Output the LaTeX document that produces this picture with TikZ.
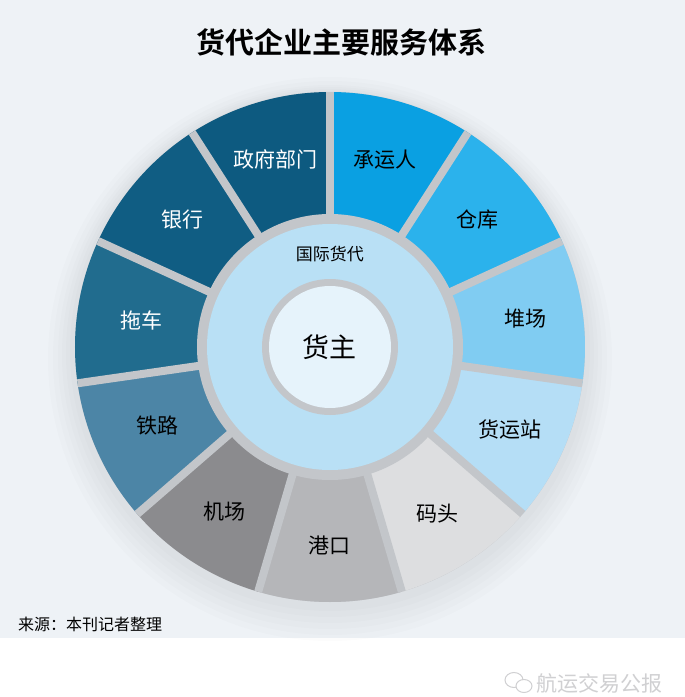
\documentclass[tikz,border=0pt]{standalone}
\usepackage{fontspec}
\setmainfont{Noto Sans CJK SC}[BoldFont=* Bold]
\usepackage{tikz}
\definecolor{bgc}{HTML}{EEF2F6}
\definecolor{gapc}{HTML}{C3C6CA}
\definecolor{govc}{HTML}{0D5A80}
\definecolor{bankc}{HTML}{105D83}
\definecolor{truckc}{HTML}{216C8E}
\definecolor{railc}{HTML}{4C85A6}
\definecolor{airc}{HTML}{8B8B8E}
\definecolor{portc}{HTML}{B5B6B9}
\definecolor{wharfc}{HTML}{DDDEE0}
\definecolor{stationc}{HTML}{B5DEF6}
\definecolor{yardc}{HTML}{80CCF2}
\definecolor{housec}{HTML}{2BB2EC}
\definecolor{carrierc}{HTML}{0AA0E2}
\definecolor{ffc}{HTML}{B9E0F5}
\definecolor{ownerc}{HTML}{E6F3FB}
\definecolor{wmc}{HTML}{D0D0D2}

\begin{document}
\begin{tikzpicture}[x=1pt, y=1pt, lab/.style={font=\fontsize{21}{21}\selectfont, text=black},
  wlab/.style={lab, text=white}, gap/.style={draw=gapc, line width=8pt},
  shade/.style={fill=black, opacity=0.012}]
\useasboundingbox (-330,-350) rectangle (355,347);
\fill[white] (-330,-350) rectangle (355,347); \fill[bgc] (-330,-291) rectangle (355,347);
\fill[shade] (0,-12) circle (282); \fill[shade] (0,-11) circle (277); \fill[shade] (0,-10) circle (272);
\fill[shade] (0,-8) circle (268); \fill[shade] (0,-6) circle (264); \fill[shade] (0,-4) circle (260);
\fill[gapc] (0,0) circle (255);
\fill[carrierc] (0,0) -- (57.27:255) arc[start angle=57.27, end angle=90, radius=255] -- cycle;
\fill[housec] (0,0) -- (24.55:255) arc[start angle=24.55, end angle=57.27, radius=255] -- cycle;
\fill[yardc] (0,0) -- (-8.18:255) arc[start angle=-8.18, end angle=24.55, radius=255] -- cycle;
\fill[stationc] (0,0) -- (-40.91:255) arc[start angle=-40.91, end angle=-8.18, radius=255] -- cycle;
\fill[wharfc] (0,0) -- (-73.64:255) arc[start angle=-73.64, end angle=-40.91, radius=255] -- cycle;
\fill[portc] (0,0) -- (-106.36:255) arc[start angle=-106.36, end angle=-73.64, radius=255] -- cycle;
\fill[airc] (0,0) -- (-139.09:255) arc[start angle=-139.09, end angle=-106.36, radius=255] -- cycle;
\fill[railc] (0,0) -- (-171.82:255) arc[start angle=-171.82, end angle=-139.09, radius=255] -- cycle;
\fill[truckc] (0,0) -- (155.45:255) arc[start angle=155.45, end angle=188.18, radius=255] -- cycle;
\fill[bankc] (0,0) -- (122.73:255) arc[start angle=122.73, end angle=155.45, radius=255] -- cycle;
\fill[govc] (0,0) -- (90:255) arc[start angle=90, end angle=122.73, radius=255] -- cycle;
\coordinate (o) at (0,0);
\coordinate (b0) at (90:255); \coordinate (b1) at (57.27:255); \coordinate (b2) at (24.55:255);
\coordinate (b3) at (-8.18:255); \coordinate (b4) at (-40.91:255); \coordinate (b5) at (-73.64:255);
\coordinate (b6) at (-106.36:255); \coordinate (b7) at (-139.09:255); \coordinate (b8) at (-171.82:255);
\coordinate (b9) at (155.45:255); \coordinate (b10) at (122.73:255);
\draw[gap] (o) -- (b0); \draw[gap] (o) -- (b1); \draw[gap] (o) -- (b2); \draw[gap] (o) -- (b3);
\draw[gap] (o) -- (b4); \draw[gap] (o) -- (b5); \draw[gap] (o) -- (b6); \draw[gap] (o) -- (b7);
\draw[gap] (o) -- (b8); \draw[gap] (o) -- (b9); \draw[gap] (o) -- (b10);
\fill[gapc] (o) circle (133); \fill[ffc] (o) circle (123);
\fill[gapc] (o) circle (68); \fill[ownerc] (o) circle (61);
\node[wlab] (gov) at (106.36:195) {政府部门}; \node[lab] (carrier) at (73.64:195) {承运人};
\node[lab] (house) at (40.91:195) {仓库}; \node[lab] (yard) at (8.18:198) {堆场};
\node[lab] (station) at (-24.55:198) {货运站}; \node[lab] (wharf) at (-57.27:198) {码头};
\node[lab] (port) at (-90:198) {港口}; \node[lab] (air) at (-122.73:196) {机场};
\node[lab] (rail) at (-155.45:190) {铁路}; \node[wlab] (truck) at (171.82:190) {拖车};
\node[wlab] (bank) at (139.09:195) {银行};
\node[font=\fontsize{17}{17}\selectfont] (ff) at (0,93) {国际货代};
\node[font=\fontsize{27}{27}\selectfont] (owner) at (0,0) {货主};
\node[font=\fontsize{29}{29}\selectfont\bfseries] (title) at (12,305) {货代企业主要服务体系};
\node[anchor=west, font=\fontsize{16}{16}\selectfont, inner sep=0pt] (src) at (-312,-277) {来源：本刊记者整理};
\node[font=\fontsize{21}{21}\selectfont, text=wmc] (wm) at (270,-336) {航运交易公报};
\draw[wmc, line width=1pt] (184,-333) ellipse (9 and 7.5);
\draw[wmc, line width=1pt, fill=white] (194,-339) ellipse (8 and 6.5);
\end{tikzpicture}
\end{document}
